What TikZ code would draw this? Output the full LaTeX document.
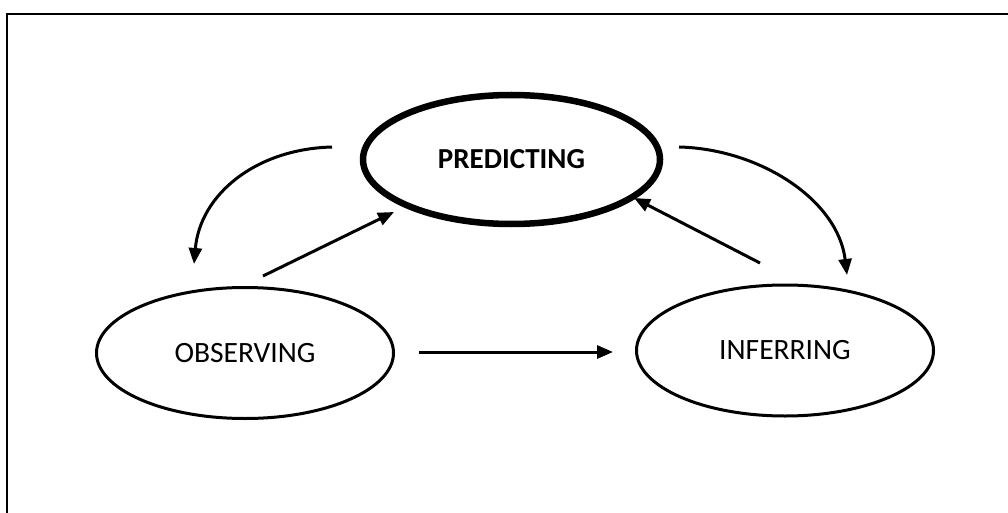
\documentclass[tikz,border=0pt]{standalone}
\usepackage{fontspec}
\setmainfont{Carlito}
\usetikzlibrary{shapes.geometric,arrows.meta}
\begin{document}
\begin{tikzpicture}[x=1pt,y=-1pt,
  frame/.style={line width=2.5pt},
  stage/.style={draw,ellipse,inner sep=0pt,line width=3pt,minimum width=297pt,minimum height=131pt,font=\fontsize{29.5}{35}\selectfont},
  keystage/.style={stage,line width=6.5pt,minimum height=129pt,font=\fontsize{29}{35}\selectfont\bfseries},
  link/.style={line width=3pt,-{Triangle[length=16pt,width=13pt]}}]
\useasboundingbox (0,0) rectangle (1008,513);
\clip (0,0) rectangle (1008,513);
\draw[frame] (7,530) -- (7,14) -- (1030,14);
\node[keystage] (pred) at (511.5,159.5) {PREDICTING};
\node[stage] (obs) at (245,353) {OBSERVING};
\node[stage] (inf) at (785,350.5) {INFERRING};
% connector end points
\coordinate (pl) at (332,147);
\coordinate (ol) at (194,264);
\coordinate (os) at (263,276);
\coordinate (ps) at (394,212);
\coordinate (pr) at (679,147);
\coordinate (ir) at (847,275);
\coordinate (is) at (760,263);
\coordinate (pi) at (634,198);
\coordinate (oh) at (419,352);
\coordinate (ih) at (613,352);
\draw[link] (pl) .. controls (255,149) and (200,195) .. (ol);
\draw[link] (os) -- (ps);
\draw[link] (pr) .. controls (760,149) and (838,200) .. (ir);
\draw[link] (is) -- (pi);
\draw[link] (oh) -- (ih);
\end{tikzpicture}
\end{document}
